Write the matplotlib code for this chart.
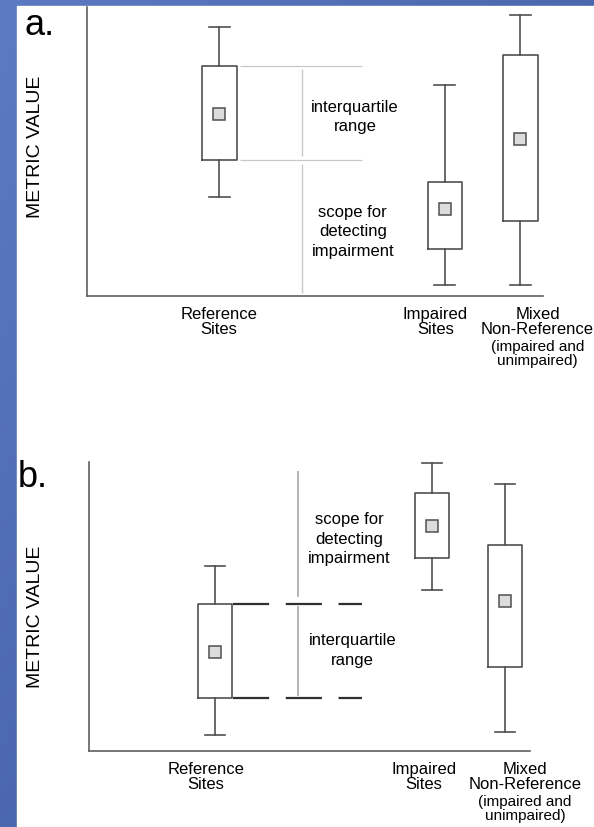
import numpy as np
import matplotlib
matplotlib.use("Agg")
import matplotlib.pyplot as plt

plt.rcParams['font.family'] = ['Liberation Sans', 'DejaVu Sans']
plt.rcParams['lines.scale_dashes'] = False

# groups shown in both panels
groups = ['Reference', 'Impaired', 'Mixed']
group_labels = ['Reference\nSites', 'Impaired\nSites', 'Mixed\nNon-Reference']
mixed_note = '(impaired and\nunimpaired)'

# panel a: metric values (0 = bottom of axis, 100 = top)
a_pos = [2.9, 7.85, 9.5]
a_label_x = [2.89, 7.64, 9.88]
a_whislo = [34.3, 3.8, 3.8]
a_q1 = [47.1, 16.3, 26.0]
a_mean = [63.0, 30.1, 54.3]
a_q3 = [79.6, 39.4, 83.4]
a_whishi = [93.1, 73.0, 97.2]

# panel b
b_pos = [2.86, 7.78, 9.43]
b_label_x = [2.65, 7.60, 9.89]
b_whislo = [5.5, 55.7, 6.6]
b_q1 = [18.3, 66.8, 29.1]
b_mean = [34.3, 77.9, 51.9]
b_q3 = [50.9, 89.3, 71.3]
b_whishi = [64.0, 99.8, 92.4]

BOXC = '#505050'


def draw_boxes(ax, pos, lo, q1, mean, q3, hi):
    stats = []
    for i in range(len(pos)):
        stats.append({'whislo': lo[i], 'q1': q1[i], 'med': mean[i], 'mean': mean[i],
                      'q3': q3[i], 'whishi': hi[i], 'fliers': []})
    ax.bxp(stats, positions=pos, widths=0.76, capwidths=0.46, showmeans=True,
           showfliers=False, patch_artist=False, manage_ticks=False,
           boxprops=dict(color=BOXC, linewidth=1.2),
           whiskerprops=dict(color=BOXC, linewidth=1.2),
           capprops=dict(color=BOXC, linewidth=1.2),
           medianprops=dict(visible=False),
           meanprops=dict(marker='s', markersize=8.5, markerfacecolor='#dcdcdc',
                          markeredgecolor=BOXC, markeredgewidth=1.1))
    for art in ax.lines:
        art.set_clip_on(False)
    ax.set_xlim(0, 10)
    ax.set_ylim(0, 100)
    ax.set_xticks([])
    ax.set_yticks([])


def setup_axes(ax, label_x):
    ax.set_xlim(0, 10)
    ax.set_ylim(0, 100)
    for s in ['top', 'right']:
        ax.spines[s].set_visible(False)
    for s in ['left', 'bottom']:
        ax.spines[s].set_color('#606060')
        ax.spines[s].set_linewidth(1.2)
    ax.patch.set_alpha(0)
    for x, lab in zip(label_x, group_labels):
        ax.annotate(lab, xy=(x, 0), xycoords=('data', 'axes fraction'),
                    xytext=(0, -7), textcoords='offset points',
                    ha='center', va='top', fontsize=12, linespacing=1.05)
    ax.annotate(mixed_note, xy=(label_x[2], 0), xycoords=('data', 'axes fraction'),
                xytext=(0, -31), textcoords='offset points',
                ha='center', va='top', fontsize=11, linespacing=1.0)


fig = plt.figure(figsize=(5.94, 8.28), dpi=100)

# blue frame
bg = fig.add_axes([0, 0, 1, 1], zorder=-2)
gx = np.linspace(0, 1, 60)
gy = np.linspace(0, 1, 80)
GX, GY = np.meshgrid(gx, gy)
light = np.array([0.36, 0.48, 0.76])
dark = np.array([0.24, 0.35, 0.62])
t = np.clip(0.55 * GX + 0.55 * GY, 0, 1)[..., None]
bg.imshow(light * (1 - t) + dark * t, extent=[0, 1, 0, 1], aspect='auto', origin='upper')
bg.add_patch(plt.Rectangle((17 / 594, 0), 1, 1 - 7 / 828, color='white'))
bg.set_xlim(0, 1)
bg.set_ylim(0, 1)
bg.axis('off')

# ---- panel a ----
ax1 = fig.add_axes([87 / 594, 1 - 297 / 828, 456 / 594, 289 / 828])
setup_axes(ax1, a_label_x)
draw_boxes(ax1, a_pos, a_whislo, a_q1, a_mean, a_q3, a_whishi)
ax1.hlines([a_q3[0], a_q1[0]], 3.36, 6.03, color='#c8c8c8', linewidth=0.9)
ax1.vlines(4.71, a_q1[0] + 1.2, a_q3[0] - 1.0, color='#c8c8c8', linewidth=1.0)
ax1.vlines(4.71, 1.0, a_q1[0] - 1.4, color='#c8c8c8', linewidth=1.0)
ax1.text(5.88, 62.3, 'interquartile\nrange', ha='center', va='center', fontsize=12, linespacing=1.35)
ax1.text(5.83, 22.5, 'scope for\ndetecting\nimpairment', ha='center', va='center', fontsize=12,
         linespacing=1.4)

fig.text(35 / 594, 1 - 147 / 828, 'METRIC VALUE', rotation=90, ha='center', va='center', fontsize=14)
fig.text(24 / 594, 1 - 35 / 828, 'a.', ha='left', va='baseline', fontsize=26)

# ---- panel b ----
ax2 = fig.add_axes([89 / 594, 1 - 752 / 828, 441 / 594, 289 / 828])
setup_axes(ax2, b_label_x)
draw_boxes(ax2, b_pos, b_whislo, b_q1, b_mean, b_q3, b_whishi)
ax2.vlines(4.74, 53.3, 96.9, color='#a8a8a8', linewidth=1.2)
ax2.vlines(4.74, b_q1[0] + 0.7, b_q3[0] - 0.7, color='#a8a8a8', linewidth=1.2)
for yv in [b_q3[0], b_q1[0]]:
    ax2.plot([3.27, 6.19], [yv, yv], color='#303030', linewidth=1.6,
             dashes=(26, 12), solid_capstyle='butt', dash_capstyle='butt')
ax2.text(5.90, 73.7, 'scope for\ndetecting\nimpairment', ha='center', va='center', fontsize=12,
         linespacing=1.4)
ax2.text(5.98, 35.1, 'interquartile\nrange', ha='center', va='center', fontsize=12, linespacing=1.35)

fig.text(35 / 594, 1 - 617 / 828, 'METRIC VALUE', rotation=90, ha='center', va='center', fontsize=14)
fig.text(18 / 594, 1 - 487 / 828, 'b.', ha='left', va='baseline', fontsize=26)

fig.savefig('out.png', dpi=100)
